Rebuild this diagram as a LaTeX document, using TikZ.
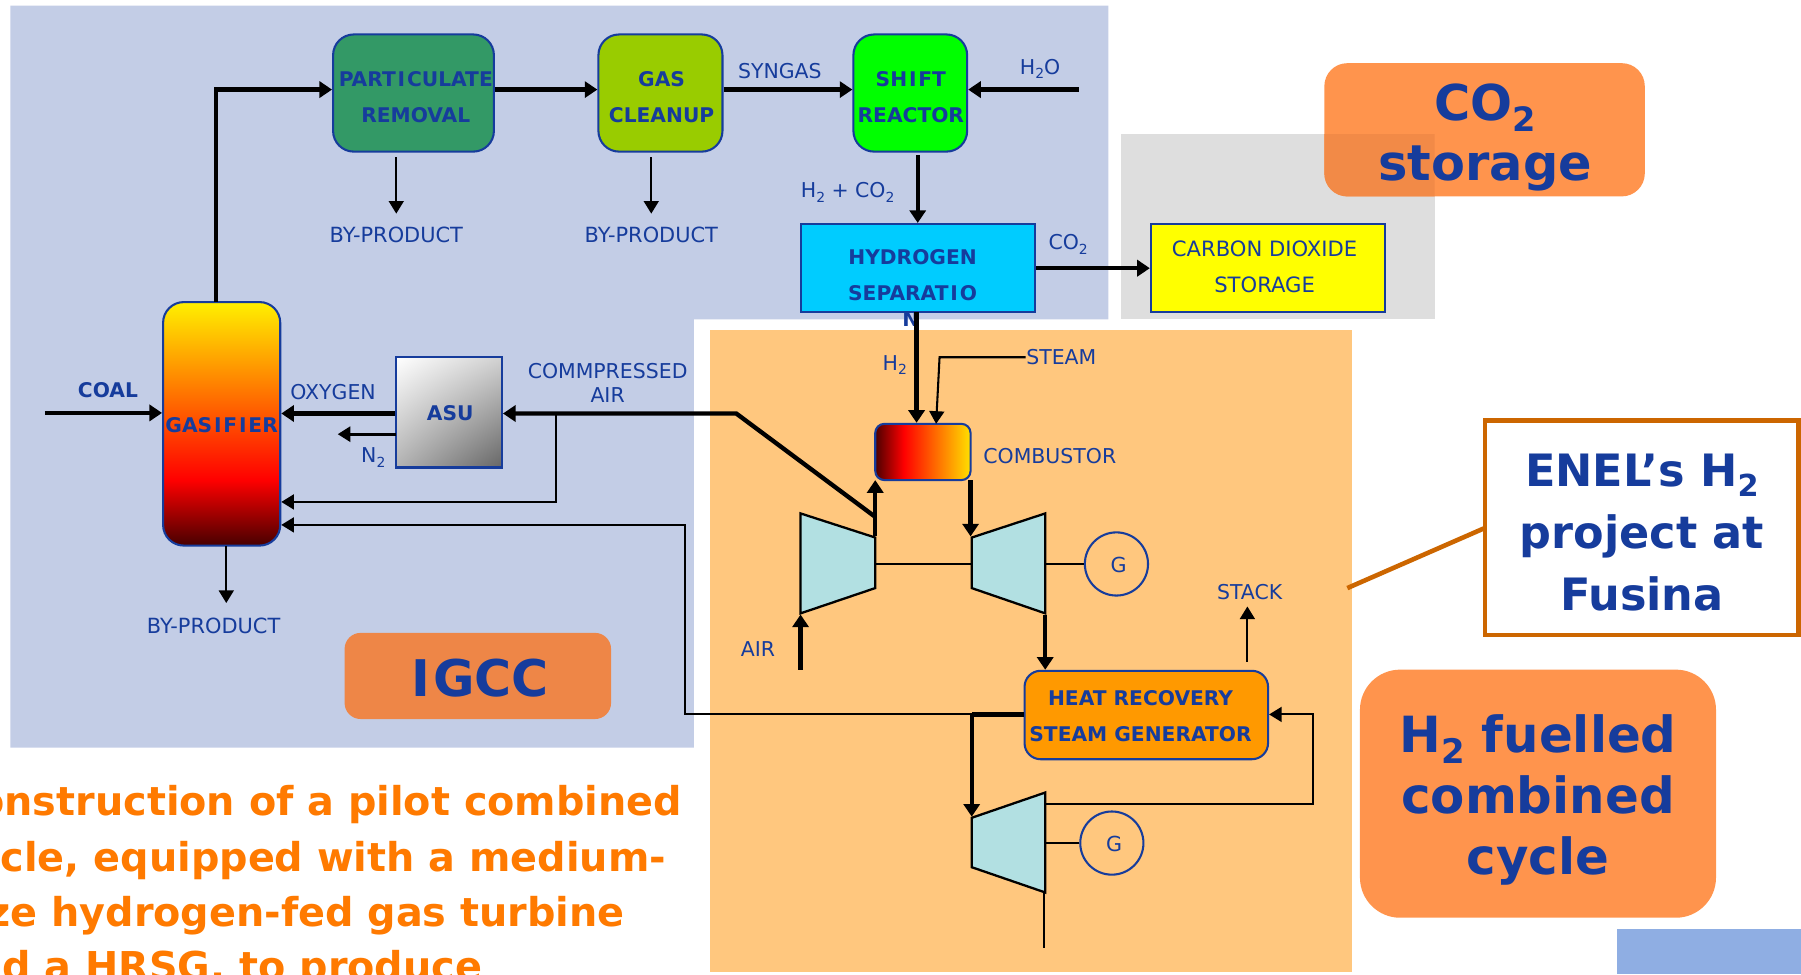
\documentclass[tikz,border=0pt]{standalone}
\usepackage{fontspec}
\setmainfont{DejaVu Sans}
\usetikzlibrary{arrows.meta,shadings}
\definecolor{bluebg}{HTML}{C3CDE6}
\definecolor{orangebg}{HTML}{FFC77E}
\definecolor{graybg}{HTML}{DEDEDE}
\definecolor{ink}{HTML}{163C9C}
\definecolor{orangetext}{HTML}{FF7A00}
\definecolor{tagorange}{HTML}{FF944D}
\definecolor{tagdark}{HTML}{F28A47}
\definecolor{igcctag}{HTML}{EE8647}
\definecolor{callout}{HTML}{CC6600}
\definecolor{cornerblue}{HTML}{8FAEE3}
\definecolor{tealfill}{HTML}{B2E0E2}
\definecolor{partfill}{HTML}{339966}
\definecolor{cleanfill}{HTML}{99CC00}
\definecolor{shiftfill}{HTML}{00FF00}
\definecolor{hsepfill}{HTML}{00CCFF}
\definecolor{storefill}{HTML}{FFFF00}
\definecolor{hrsgfill}{HTML}{FF9900}
\pgfdeclareverticalshading{gasshade}{100bp}{rgb(0bp)=(0.28,0,0); rgb(25bp)=(0.28,0,0); rgb(38.5bp)=(1,0,0); rgb(75bp)=(1,0.94,0); rgb(100bp)=(1,0.94,0)}
\pgfdeclarehorizontalshading{combshade}{100bp}{rgb(0bp)=(0.3,0,0); rgb(25bp)=(0.3,0,0); rgb(40bp)=(1,0,0); rgb(75bp)=(1,0.88,0); rgb(100bp)=(1,0.88,0)}
\newcommand\lowtwo{\raisebox{-.22em}{\scalebox{.68}{2}}}
\newcommand\spI{\kern1.6pt I\kern1.6pt}
\tikzset{
  unitbox/.style={draw=ink,line width=1.8pt,inner sep=0pt,rounded corners=#1},
  unitbox/.default=18pt,
  boldtxt/.style={text=ink,font=\fontsize{17.6}{31.5}\selectfont\bfseries,align=center,inner sep=0pt},
  plaintxt/.style={text=ink,font=\fontsize{17.8}{21}\selectfont,align=center,inner sep=0pt},
  tag/.style={inner sep=0pt,text=ink,align=center},
  heavy/.style={line width=3.8pt,-{Triangle[length=11pt,width=14pt]}},
  heavyplain/.style={line width=3.8pt},
  light/.style={line width=1.8pt,-{Triangle[length=11pt,width=13pt]}},
  lightplain/.style={line width=1.8pt},
  machine/.style={draw=black,line width=2pt,fill=tealfill,line join=miter},
  gen/.style={circle,draw=ink,line width=1.8pt,minimum size=55pt,inner sep=0pt,text=ink,font=\fontsize{18}{20}\selectfont},
  bigorange/.style={text=orangetext,font=\fontsize{34.6}{40}\selectfont\bfseries,anchor=base east,inner sep=0pt},
}
\begin{document}
\begin{tikzpicture}[x=1pt,y=-1pt]
\useasboundingbox (0,0) rectangle (1568,848);
% backgrounds
\fill[bluebg] (9,5) -- (965,5) -- (965,278) -- (604,278) -- (604,651) -- (9,651) -- cycle;
\fill[orangebg] (618,287) rectangle (1177,846);
\fill[graybg] (976,117) rectangle (1249,278);
\fill[cornerblue] (1408,809) rectangle (1568,848);
% tags
\node[tag,fill=tagorange,rounded corners=20pt,minimum width=279pt,minimum height=116pt] (co2tag) at (1292.5,113) {};
\begin{scope}
\clip (976,117) rectangle (1249,278);
\fill[tagdark,rounded corners=20pt] (1153,55) rectangle (1432,171);
\end{scope}
\node[tag,font=\fontsize{43}{52}\selectfont\bfseries] (co2tagt) at (1293,119.5) {CO\lowtwo\\storage};
\node[tag,fill=igcctag,rounded corners=14pt,minimum width=232pt,minimum height=75pt] (igcc) at (416,588.5) {};
\node[tag,font=\fontsize{44}{50}\selectfont\bfseries] (igcct) at (418,590) {I\kern3pt GCC};
\node[tag,fill=tagorange,rounded corners=35pt,minimum width=310pt,minimum height=216pt] (h2tag) at (1339,691) {};
\node[tag,font=\fontsize{43.4}{53}\selectfont\bfseries] (h2tagt) at (1339,696.5) {H\lowtwo{} fuelled\\combined\\cycle};
\node[tag,draw=callout,fill=white,line width=4pt,minimum width=273pt,minimum height=187pt] (enel) at (1429.5,459.5) {};
\node[tag,font=\fontsize{38.8}{54}\selectfont\bfseries] (enelt) at (1429.5,464) {ENEL’s H\lowtwo\\project at\\Fusina};
% orange paragraph (cut by the page edges)
\node[bigorange] (p1) at (594,710) {onstruction of a pilot combined};
\node[bigorange] (p2) at (580,758.5) {cle, equipped with a medium-};
\node[bigorange] (p3) at (544,806.5) {ze hydrogen-fed gas turbine};
\node[bigorange] (p4) at (420,854) {d a HRSG, to produce};
% units
\node[unitbox,fill=partfill,minimum width=140pt,minimum height=102pt] (part) at (360,81) {};
\node[unitbox,fill=cleanfill,minimum width=108pt,minimum height=102pt] (clean) at (575,81) {};
\node[unitbox,fill=shiftfill,minimum width=99pt,minimum height=102pt] (shift) at (792.5,81) {};
\node[unitbox=0pt,fill=hsepfill,minimum width=204pt,minimum height=77pt] (hsep) at (799,233.5) {};
\node[unitbox=0pt,fill=storefill,minimum width=204pt,minimum height=77pt] (store) at (1104,233.5) {};
\node[unitbox,shade,shading=gasshade,minimum width=102pt,minimum height=212pt] (gas) at (193,369) {};
\node[unitbox=0pt,upper left=white,upper right=black!18,lower left=black!30,lower right=black!60,minimum width=92pt,minimum height=96pt] (asu) at (391,359) {};
\node[unitbox=8pt,shade,shading=combshade,minimum width=83pt,minimum height=49pt] (comb) at (803.5,393.5) {};
\node[unitbox=14pt,fill=hrsgfill,minimum width=212pt,minimum height=77pt] (hrsg) at (998,622.5) {};
% machines
\draw[machine] (697,447) -- (762,468) -- (762,512) -- (697,534) -- cycle;
\draw[machine] (846,468) -- (910,447) -- (910,534) -- (846,512) -- cycle;
\draw[machine] (846,712) -- (910,690) -- (910,777) -- (846,755) -- cycle;
\node[gen] (g1) at (972,491) {};
\node[gen] (g2) at (968,734) {};
\node[text=ink,font=\fontsize{18}{20}\selectfont,inner sep=0pt] (g1t) at (974,492) {G};
\node[text=ink,font=\fontsize{18}{20}\selectfont,inner sep=0pt] (g2t) at (970,735) {G};
% labels
\node[boldtxt] (tpart) at (362,84.5) {PART\spI CULATE\\REMOVAL};
\node[boldtxt] (tclean) at (576,84.5) {GAS\\CLEANUP};
\node[boldtxt] (tshift) at (793,84.5) {SH\spI FT\\REACTOR};
\node[boldtxt] (thsep) at (794.5,239.5) {HYDROGEN\\SEPARAT\spI O};
\node[boldtxt] (thsepn) at (793,278) {N};
\node[boldtxt] (tgas) at (193,370) {GAS\spI F\spI ER};
\node[boldtxt] (tasu) at (392,360) {ASU};
\node[boldtxt] (thrsg) at (993,623.5) {HEAT RECOVERY\\STEAM GENERATOR};
\node[boldtxt] (tcoal) at (94,340) {COAL};
\node[plaintxt,font=\fontsize{18.4}{31.5}\selectfont] (tstore) at (1101,232.5) {CARBON DIOXIDE\\STORAGE};
\node[plaintxt,font=\fontsize{18.2}{21}\selectfont] (bp1) at (345,204.5) {BY-PRODUCT};
\node[plaintxt,font=\fontsize{18.2}{21}\selectfont] (bp2) at (567,204.5) {BY-PRODUCT};
\node[plaintxt,font=\fontsize{18.2}{21}\selectfont] (bp3) at (186,544.5) {BY-PRODUCT};
\node[plaintxt] (lsyn) at (679,62) {SYNGAS};
\node[plaintxt] (lh2o) at (905.5,60) {H\lowtwo O};
\node[plaintxt] (lh2co2) at (738,167.5) {H\lowtwo{} + CO\lowtwo};
\node[plaintxt] (lco2) at (930,213) {CO\lowtwo};
\node[plaintxt] (lh2) at (779,318) {H\lowtwo};
\node[plaintxt] (lsteam) at (924,311) {STEAM};
\node[plaintxt] (lcomb) at (914,397) {COMBUSTOR};
\node[plaintxt] (loxy) at (290,341) {OXYGEN};
\node[plaintxt] (ln2) at (325,398.5) {N\lowtwo};
\node[plaintxt] (lcomp) at (529,333.5) {COMMPRESSED\\AIR};
\node[plaintxt] (lair) at (660,565) {AIR};
\node[plaintxt] (lstack) at (1088,515.5) {STACK};
% free ends and junctions
\coordinate (coalS) at (39,359.5);
\coordinate (gasTop) at (188,263);
\coordinate (gasCorner) at (188,78);
\coordinate (h2oS) at (939,78);
\coordinate (bp1S) at (345,137);
\coordinate (bp1E) at (345,186);
\coordinate (bp2S) at (567,137);
\coordinate (bp2E) at (567,186);
\coordinate (bp3S) at (197,475);
\coordinate (bp3E) at (197,525);
\coordinate (shiftOut) at (799,135);
\coordinate (hsepH2) at (798,272);
\coordinate (steamS) at (893,311);
\coordinate (steamC) at (818,311);
\coordinate (combSteam) at (815,369);
\coordinate (combOut) at (845,418);
\coordinate (turbIn) at (845,467);
\coordinate (compOut) at (762,467);
\coordinate (combIn) at (762,418);
\coordinate (bleedEnd) at (762,450);
\coordinate (bleedBend) at (641,360);
\coordinate (n2S) at (345,378);
\coordinate (n2E) at (294,378);
\coordinate (tap) at (484,360);
\coordinate (tapC) at (484,437);
\coordinate (retA) at (596,457);
\coordinate (retB) at (596,622);
\coordinate (steamJ) at (846,622);
\coordinate (t2In) at (846,711);
\coordinate (shaftL) at (762,491);
\coordinate (shaftR) at (846,491);
\coordinate (t1Out) at (910,491);
\coordinate (t2Out) at (910,734);
\coordinate (t1Ex) at (910,535);
\coordinate (stackS) at (1086,576);
\coordinate (stackE) at (1086,528);
\coordinate (t2Back) at (910,700);
\coordinate (loopC) at (1143,700);
\coordinate (loopD) at (1143,622);
\coordinate (t2Bot) at (909,777);
\coordinate (t2End) at (909,825);
\coordinate (airS) at (697,583);
\coordinate (airE) at (697,535);
\coordinate (calloutS) at (1173,512);
\coordinate (calloutE) at (1292,460);
% connectors
\draw[heavy] (coalS) -- (coalS -| gas.west);
\draw[heavy,line join=miter] (gasTop) -- (gasCorner) -- (gasCorner -| part.west);
\draw[heavy] (part.east |- gasCorner) -- (clean.west |- gasCorner);
\draw[heavy] (clean.east |- gasCorner) -- (shift.west |- gasCorner);
\draw[heavy] (h2oS) -- (shift.east |- h2oS);
\draw[light] (bp1S) -- (bp1E);
\draw[light] (bp2S) -- (bp2E);
\draw[light] (bp3S) -- (bp3E);
\draw[heavy] (shiftOut) -- (shiftOut |- hsep.north);
\draw[heavy] (hsep.east) -- (store.west);
\draw[heavy] (hsepH2) -- (hsepH2 |- comb.north);
\draw[light,line join=miter] (steamS) -- (steamC) -- (combSteam);
\draw[heavy] (combOut) -- (turbIn);
\draw[heavy] (compOut) -- (combIn);
\draw[heavy,line join=miter] (bleedEnd) -- (bleedBend) -- (bleedBend -| asu.east);
\draw[heavy] (asu.west) ++(0,1) -- (gas.east |- bleedBend);
\draw[line width=2.6pt,-{Triangle[length=11pt,width=13pt]}] (n2S) -- (n2E);
\draw[light,line join=miter] (tap) -- (tapC) -- (tapC -| gas.east);
\draw[light,line join=miter] (steamJ) -- (retB) -- (retA) -- (retA -| gas.east);
\draw[heavyplain] (hrsg.west |- steamJ) -- (steamJ);
\draw[heavy] (steamJ) -- (t2In);
\draw[lightplain] (shaftL) -- (shaftR);
\draw[lightplain] (t1Out) -- (g1.west);
\draw[lightplain] (t2Out) -- (g2.west);
\draw[heavy] (t1Ex) -- (t1Ex |- hrsg.north);
\draw[light] (stackS) -- (stackE);
\draw[light,line join=miter] (t2Back) -- (loopC) -- (loopD) -- (hrsg.east |- loopD);
\draw[lightplain] (t2Bot) -- (t2End);
\draw[heavy] (airS) -- (airE);
\draw[callout,line width=4pt] (calloutS) -- (calloutE);
\end{tikzpicture}
\end{document}
